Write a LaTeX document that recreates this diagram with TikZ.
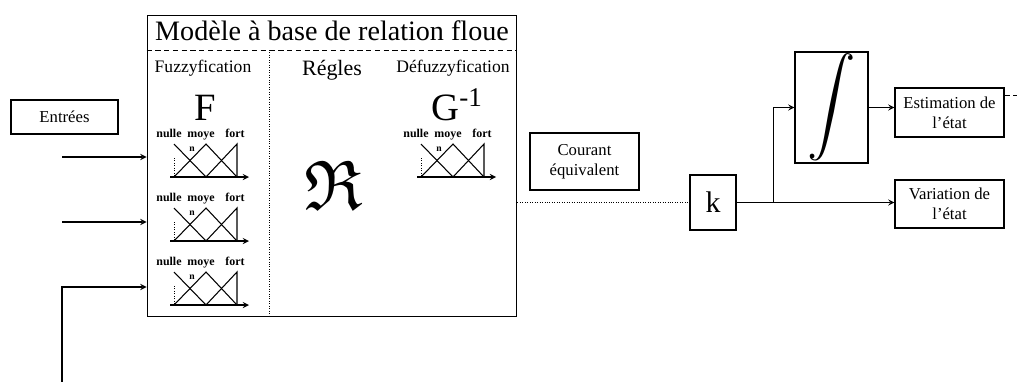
\documentclass[tikz,border=0pt]{standalone}
\usepackage{amsmath}
\usepackage{amssymb}
\usepackage{graphicx}
\usepackage{fontspec}
\setmainfont{Liberation Serif}
\usepackage{tikz}

\tikzset{
    blockbox/.style={draw, line width=0.6pt, inner sep=0pt, align=center, font=\fontsize{9.5}{11.5}\selectfont},
    memblabel/.style={inner sep=0pt, anchor=base, font=\fontsize{6.8}{7}\selectfont\bfseries},
}

\begin{document}
\begin{tikzpicture}[x=0.02cm, y=-0.02cm, line width=0.6pt, >=stealth]
    \useasboundingbox (0,0) rectangle (1019,382);

    % Fuzzy relation model
    \node[draw, line width=0.6pt, minimum width=7.4cm, minimum height=6.04cm] (model) at (332,166) {};
    \node[font=\fontsize{16}{18}\selectfont] (title) at (332,31) {Modèle à base de relation floue};
    \coordinate (sep) at (269,50);
    \draw[densely dashed, thin] (model.west |- sep) -- (model.east |- sep);
    \draw[densely dotted, thin] (sep) -- (sep |- model.south);

    % Column headings
    \node[font=\fontsize{10}{12}\selectfont] (fuzz) at (203,68) {Fuzzyfication};
    \node[font=\fontsize{12.5}{14}\selectfont] (regles) at (332,70) {Régles};
    \node[font=\fontsize{10}{12}\selectfont] (defuzz) at (453,68) {Défuzzyfication};
    \node[anchor=base, inner sep=0pt, font=\fontsize{22}{24}\selectfont] (F) at (205,120) {F};
    \node[anchor=base, inner sep=0pt, font=\fontsize{22}{24}\selectfont] (Ginv) at (457,120) {G\textsuperscript{-1}};
    \node (rules) at (334,185) {\scalebox{4}{$\mathfrak{R}$}};

    % Membership functions
    \foreach \px/\ly [count=\i] in {172/134, 172/198, 172/262, 419/134} {
        \node[memblabel] (nulle\i) at (\px-3,\ly+3) {nulle};
        \node[memblabel] (moye\i) at (\px+29,\ly+3) {moye};
        \node[memblabel] (fort\i) at (\px+63,\ly+3) {fort};
        \node[inner sep=0pt, font=\fontsize{5.5}{6}\selectfont\bfseries] (n\i) at (\px+20,\ly+15) {n};
        \draw (\px+2,\ly+10) -- (\px+34,\ly+43);
        \draw (\px+2,\ly+43) -- (\px+34,\ly+10) -- (\px+65,\ly+43);
        \draw (\px+34,\ly+43) -- (\px+65,\ly+10) -- (\px+65,\ly+43);
        \draw[densely dotted, thin] (\px+2,\ly+24) -- (\px+2,\ly+43);
        \draw[->] (\px-2,\ly+43) -- (\px+77,\ly+43);
    }

    % Inputs
    \node[blockbox, minimum width=2.14cm, minimum height=0.68cm] (entrees) at (64.5,117) {Entrées};
    \coordinate (in1) at (62,157);
    \coordinate (in2) at (62,222);
    \coordinate (in3) at (62,382);
    \coordinate (j3) at (0,287);
    \draw[->] (in1) -- (in1 -| model.west);
    \draw[->] (in2) -- (in2 -| model.west);
    \draw[->] (in3) |- (model.west |- j3);

    % Output chain
    \node[blockbox, minimum width=2.18cm, minimum height=1.14cm] (courant) at (584.5,161.5) {Courant\\équivalent};
    \node[blockbox, minimum width=0.92cm, minimum height=1.1cm, font=\fontsize{17}{20}\selectfont] (k) at (713,202.5) {k};
    \node[blockbox, minimum width=1.46cm, minimum height=2.22cm] (integ) at (831.5,107.5) {\scalebox{2.9}{$\displaystyle\int$}};
    \node[blockbox, minimum width=2.18cm, minimum height=0.98cm] (est) at (949.5,112.5) {Estimation de\\l'état};
    \node[blockbox, minimum width=2.18cm, minimum height=0.96cm] (var) at (949.5,204) {Variation de\\l'état};

    \draw[densely dotted, thin] (model.east |- k.west) -- (k.west);
    \draw[->] (k.east) -- (k.east -| var.west);
    \path (k.east) ++(37,0) coordinate (br);
    \draw[->] (br) |- (integ.west);
    \draw[->] (integ.east) -- (integ.east -| est.west);
    \draw[densely dashed, thin] ([yshift=0.34cm]est.east) -- ++(12,0);
\end{tikzpicture}
\end{document}
